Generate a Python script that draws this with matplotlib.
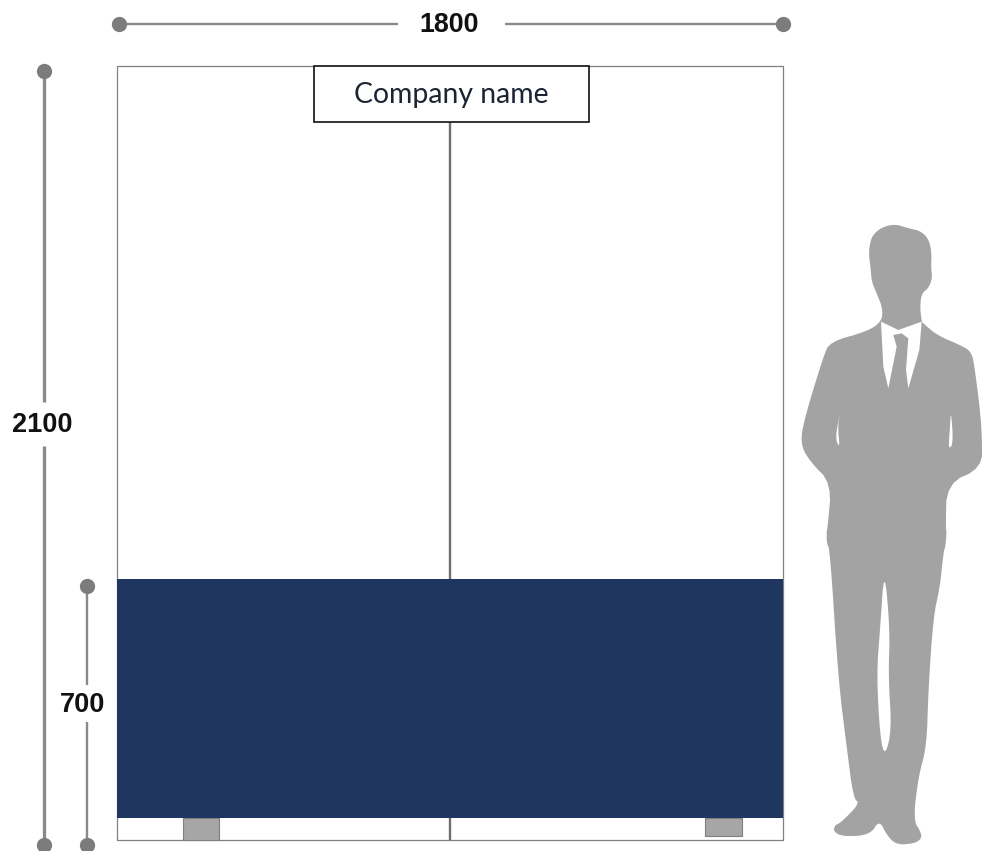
import numpy as np
import matplotlib
matplotlib.use('Agg')
import matplotlib.pyplot as plt
from matplotlib.patches import Rectangle, Polygon

# sizes in mm
frame_width = 1800
frame_height = 2100
panel_height = 700
panel_bottom = 60
dim_labels = ['1800', '2100', '700']
company = 'Company name'

# figure outline (pixels)
body_x = [305,308,290,275,272,266,270,278,305,345,385,420,445,455,453,457,445,425,420,425,
          430,470,540,575,585,600,606,606,500,497]
body_y = [335,295,250,215,175,130,100,75,52,42,55,62,85,125,170,205,235,250,290,335,
          340,375,405,425,480,600,680,775,820,960]
legs_x = [500,497,490,480,460,445,440,415,400,422,425,405,350,320,298,270,190,160,165,180,240,220,200,175,150,140,140]
legs_y = [0,45,70,170,260,480,650,740,870,905,925,940,945,915,870,915,920,905,885,880,820,805,650,450,60,40,0]
arm_x = [142,155,90,60,75,130,150,260]
arm_y = [960,820,755,700,620,440,395,365]
shirt_x = [303,355,425,418,385,378,385,365,340,350,325,310]
shirt_y = [335,360,335,420,535,480,385,370,375,410,535,470]
gap_left_x = [182,165,180,173]
gap_left_y = [600,685,715,650]
gap_right_x = [513,520,505,510]
gap_right_y = [600,700,720,650]
gap_legs_x = [313,330,325,335,315,300,290,300]
gap_legs_y = [110,300,440,600,680,620,430,300]

navy = '#1e3660'
grey = '#808080'
silhouette = '#a3a3a3'

# scale of the drawing: px per mm, frame corner at (117, 840)
sx = 666 / frame_width
sy = 774 / frame_height


def mmx(px):
    return (np.asarray(px, dtype=float) - 117) / sx


def mmy(py):
    return (840 - np.asarray(py, dtype=float)) / sy


def upper(x, y):
    # crop 1 of the man, 3x zoom, origin (780, 210)
    return np.column_stack([mmx(780 + np.array(x) / 3), mmy(210 + np.array(y) / 3)])


def lower(x, y):
    # crop 2 of the man, 3x zoom, origin (780, 530)
    return np.column_stack([mmx(780 + np.array(x) / 3), mmy(530 + np.array(y) / 3)])


def rounded(pts, passes=2):
    # corner cutting, only to take the edges off the traced outline
    for _ in range(passes):
        nxt = np.roll(pts, -1, axis=0)
        pts = np.column_stack([0.75 * pts + 0.25 * nxt, 0.25 * pts + 0.75 * nxt]).reshape(-1, 2)
    return pts


fig = plt.figure(figsize=(9.82, 8.51), dpi=100)
ax = fig.add_axes([0, 0, 1, 1])
ax.set_xlim(mmx(0), mmx(982))
ax.set_ylim(mmy(851), mmy(0))
ax.axis('off')

# frame
ax.add_patch(Rectangle((0, 0), frame_width, frame_height, fc='white', ec=grey, lw=0.9, zorder=1))
# centre pole
ax.plot([frame_width / 2] * 2, [0, frame_height], color='#6f6f6f', lw=1.7, zorder=2, solid_capstyle='butt')
# feet
ax.add_patch(Rectangle((mmx(183), 0), 36 / sx, panel_bottom, fc='#a6a6a6', ec=grey, lw=0.8, zorder=2))
ax.add_patch(Rectangle((mmx(705), mmy(836)), 37 / sx, panel_bottom - 4 / sy, fc='#a6a6a6', ec=grey, lw=0.8, zorder=2))
# panel
ax.add_patch(Rectangle((0, panel_bottom), frame_width, mmy(579) - panel_bottom, fc=navy, ec='none', zorder=3))
# name box
ax.add_patch(Rectangle((mmx(314), mmy(122)), 275 / sx, 56 / sy, fc='white', ec='#111111', lw=1.2, zorder=4))
ax.text(mmx(451), mmy(95), company, ha='center', va='center', fontsize=20.4, color='#1a2433',
        family='Lato', zorder=5)


def dim_line(x0, y0, x1, y1, lw=1.7):
    ax.plot([mmx(x0), mmx(x1)], [mmy(y0), mmy(y1)], color='#8a8a8a', lw=lw, solid_capstyle='butt', zorder=2)


def dot(x, y):
    ax.plot(mmx(x), mmy(y), 'o', color='#7c7c7c', ms=11, mew=0, zorder=3)


# width dimension
dim_line(119, 24, 398, 24)
dim_line(505, 24, 783, 24)
dot(119, 24)
dot(783, 24)
ax.text(mmx(449), mmy(25), dim_labels[0], ha='center', va='center', fontsize=19.3,
        fontweight='bold', family='Liberation Sans', color='#111111')

# height dimension
dim_line(44, 71, 44, 402, lw=2.4)
dim_line(44, 446, 44, 845, lw=2.4)
dot(44, 71)
dot(44, 845)
ax.text(mmx(42), mmy(425), dim_labels[1], ha='center', va='center', fontsize=19.5,
        fontweight='bold', family='Liberation Sans', color='#111111')

# panel dimension
dim_line(87, 586, 87, 685)
dim_line(87, 722, 87, 845)
dot(87, 586)
dot(87, 845)
ax.text(mmx(82.5), mmy(705), dim_labels[2], ha='center', va='center', fontsize=19.5,
        fontweight='bold', family='Liberation Sans', color='#111111')

# man
outline = np.vstack([upper(body_x, body_y), lower(legs_x, legs_y), upper(arm_x, arm_y)])
ax.add_patch(Polygon(rounded(outline), closed=True, fc=silhouette, ec='none', zorder=3))
ax.add_patch(Polygon(upper(shirt_x, shirt_y), closed=True, fc='white', ec='none', zorder=4))
ax.add_patch(Polygon(rounded(upper(gap_left_x, gap_left_y)), closed=True, fc='white', ec='none', zorder=4))
ax.add_patch(Polygon(rounded(upper(gap_right_x, gap_right_y)), closed=True, fc='white', ec='none', zorder=4))
ax.add_patch(Polygon(rounded(lower(gap_legs_x, gap_legs_y)), closed=True, fc='white', ec='none', zorder=4))

fig.savefig('out.png', dpi=100)
